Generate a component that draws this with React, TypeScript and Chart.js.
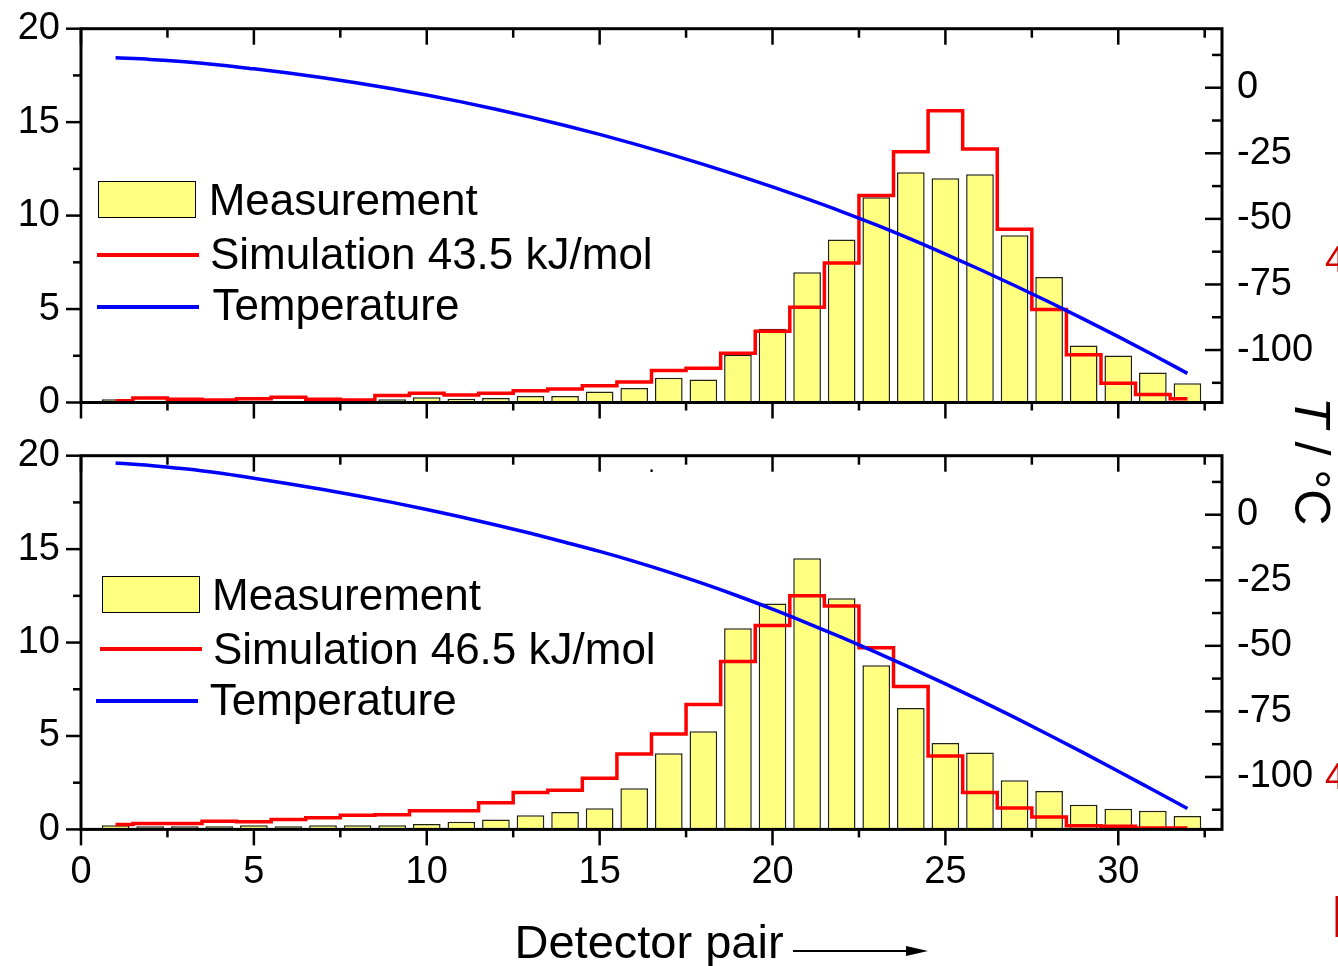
import React, { useEffect, useRef } from "react";
import { Chart, registerables } from "chart.js";

Chart.register(...registerables);

const FONT = "'Liberation Sans', Arial, Helvetica, sans-serif";

// ---------- data ----------
const DETECTOR_PAIRS = [
  1, 2, 3, 4, 5, 6, 7, 8, 9, 10, 11, 12, 13, 14, 15, 16,
  17, 18, 19, 20, 21, 22, 23, 24, 25, 26, 27, 28, 29, 30, 31, 32,
];

const TOP_MEASUREMENT = [
  0.18, 0.07, 0.04, 0.04, 0.06, 0.08, 0.04, 0.04, 0.17, 0.28, 0.2, 0.24, 0.35, 0.35, 0.59, 0.78,
  1.32, 1.23, 2.55, 3.94, 6.97, 8.72, 10.98, 12.32, 12.0, 12.21, 8.95, 6.72, 3.05, 2.51, 1.6, 1.03,
];
const TOP_SIMULATION = [
  0.1, 0.24, 0.17, 0.13, 0.2, 0.28, 0.17, 0.13, 0.38, 0.49, 0.4, 0.5, 0.63, 0.72, 0.9, 1.1,
  1.71, 1.83, 2.64, 3.81, 5.1, 7.47, 11.07, 13.42, 15.61, 13.57, 9.27, 4.97, 2.55, 1.03, 0.43, 0.2,
];
const TOP_TEMPERATURE = [
  11.4, 10.8, 9.9, 8.7, 7.2, 5.6, 3.8, 1.8, -0.4, -2.8, -5.4, -8.2, -11.2, -14.4, -17.8, -21.4,
  -25.2, -29.2, -33.4, -37.8, -42.4, -47.2, -52.3, -57.7, -63.4, -69.3, -75.4, -81.7, -88.2, -94.9, -101.8, -108.9,
];

const BOTTOM_MEASUREMENT = [
  0.22, 0.17, 0.17, 0.17, 0.22, 0.17, 0.22, 0.22, 0.22, 0.29, 0.41, 0.53, 0.76, 0.93, 1.13, 2.2,
  4.08, 5.25, 10.76, 12.09, 14.51, 12.37, 8.78, 6.5, 4.62, 4.12, 2.63, 2.06, 1.32, 1.1, 1.0, 0.72,
];
const BOTTOM_SIMULATION = [
  0.26, 0.31, 0.31, 0.44, 0.41, 0.53, 0.63, 0.76, 0.78, 1.0, 1.0, 1.43, 1.97, 2.09, 2.74, 4.04,
  5.1, 6.68, 8.98, 10.91, 12.5, 11.96, 9.72, 7.65, 3.93, 1.97, 1.15, 0.67, 0.2, 0.17, 0.07, 0.07,
];
const BOTTOM_TEMPERATURE = [
  19.7, 18.8, 17.5, 15.9, 13.9, 11.8, 9.6, 7.2, 4.7, 2.0, -0.9, -3.9, -7.1, -10.5, -14.0, -17.8,
  -21.9, -26.3, -31.0, -36.0, -41.3, -46.8, -52.5, -58.4, -64.5, -70.8, -77.3, -84.0, -90.8, -97.8, -104.9, -112.0,
];

// ---------- axes / ticks ----------
const X_LABEL_TICKS = [0, 5, 10, 15, 20, 25, 30];
const X_MINOR_TICKS = [2.5, 7.5, 12.5, 17.5, 22.5, 27.5, 32.5];
const COUNT_LABEL_TICKS = [0, 5, 10, 15, 20];
const COUNT_MINOR_TICKS = [2.5, 7.5, 12.5, 17.5];
const TEMP_LABEL_TICKS = [-100, -75, -50, -25, 0];
const TEMP_MINOR_TICKS = [-112.5, -87.5, -62.5, -37.5, -12.5, 12.5];

const TOP_LEGEND = ["Measurement", "Simulation 43.5 kJ/mol", "Temperature"];
const BOTTOM_LEGEND = ["Measurement", "Simulation 46.5 kJ/mol", "Temperature"];
const X_TITLE = "Detector pair";

const YELLOW = "#FFFF80";
const RED = "#FF0000";
const BLUE = "#0000FF";

const framePlugin = {
  id: "frameTicks",
  afterDatasetsDraw(chart: any) {
    const { ctx, chartArea: a, scales } = chart;
    const sx = scales.x;
    const sy = scales.y;
    const st = scales.yT;
    ctx.save();
    ctx.strokeStyle = "#000";
    ctx.lineCap = "butt";
    ctx.lineWidth = 2.5;
    const seg = (x1: number, y1: number, x2: number, y2: number) => {
      ctx.beginPath();
      ctx.moveTo(x1, y1);
      ctx.lineTo(x2, y2);
      ctx.stroke();
    };
    for (const v of X_LABEL_TICKS) {
      const p = sx.getPixelForValue(v);
      seg(p, a.bottom, p, a.bottom + 16);
      seg(p, a.top, p, a.top + 16);
    }
    for (const v of X_MINOR_TICKS) {
      const p = sx.getPixelForValue(v);
      seg(p, a.bottom, p, a.bottom + 8);
      seg(p, a.top, p, a.top + 9);
    }
    for (const v of COUNT_LABEL_TICKS) {
      const p = sy.getPixelForValue(v);
      seg(a.left, p, a.left - 15, p);
    }
    for (const v of COUNT_MINOR_TICKS) {
      const p = sy.getPixelForValue(v);
      seg(a.left, p, a.left - 8, p);
    }
    for (const v of TEMP_LABEL_TICKS) {
      const p = st.getPixelForValue(v);
      seg(a.right, p, a.right - 17, p);
    }
    for (const v of TEMP_MINOR_TICKS) {
      const p = st.getPixelForValue(v);
      seg(a.right, p, a.right - 10, p);
    }
    ctx.lineWidth = 3;
    ctx.strokeRect(a.left, a.top, a.right - a.left, a.bottom - a.top);
    ctx.restore();
  },
};

const zeroPadding = (s: any) => {
  s.paddingTop = 0;
  s.paddingBottom = 0;
  s.paddingLeft = 0;
  s.paddingRight = 0;
};

type PanelProps = {
  top: number;
  height: number;
  padTop: number;
  xAxisHeight: number;
  showXLabels: boolean;
  measurement: number[];
  simulation: number[];
  temperature: number[];
};

function Panel(props: PanelProps) {
  const ref = useRef<HTMLCanvasElement | null>(null);
  useEffect(() => {
    if (!ref.current) return;
    const tickFont = { family: FONT, size: 38 };
    const chart = new Chart(ref.current, {
      type: "bar",
      data: {
        datasets: [
          {
            type: "line",
            label: "Temperature",
            data: DETECTOR_PAIRS.map((x, i) => ({ x, y: props.temperature[i] })),
            yAxisID: "yT",
            borderColor: BLUE,
            borderWidth: 3.5,
            pointRadius: 0,
            cubicInterpolationMode: "monotone",
            fill: false,
            order: 1,
          } as any,
          {
            type: "line",
            label: "Simulation",
            data: DETECTOR_PAIRS.map((x, i) => ({ x, y: props.simulation[i] })),
            yAxisID: "y",
            borderColor: RED,
            borderWidth: 3.5,
            pointRadius: 0,
            stepped: "middle",
            fill: false,
            order: 2,
          } as any,
          {
            type: "bar",
            label: "Measurement",
            data: DETECTOR_PAIRS.map((x, i) => ({ x, y: props.measurement[i] })),
            yAxisID: "y",
            backgroundColor: YELLOW,
            borderColor: "#222211",
            borderWidth: 1.5,
            barPercentage: 0.8,
            categoryPercentage: 1,
            order: 3,
          } as any,
        ],
      },
      options: {
        animation: false,
        responsive: false,
        maintainAspectRatio: false,
        layout: { padding: { top: props.padTop, left: 0, right: 0, bottom: 0 } },
        plugins: { legend: { display: false }, tooltip: { enabled: false } },
        scales: {
          x: {
            type: "linear",
            position: "bottom",
            min: 0,
            max: 33,
            offset: false,
            grid: { display: false, drawTicks: false, offset: false },
            border: { display: false },
            ticks: {
              display: props.showXLabels,
              padding: 20,
              color: "#000",
              font: tickFont,
              maxRotation: 0,
              callback: (v: any) => String(v),
            },
            afterBuildTicks: (s: any) => {
              s.ticks = X_LABEL_TICKS.map((v) => ({ value: v }));
            },
            afterFit: (s: any) => {
              s.height = props.xAxisHeight;
              zeroPadding(s);
            },
          },
          y: {
            type: "linear",
            position: "left",
            min: 0,
            max: 20,
            grid: { display: false, drawTicks: false },
            border: { display: false },
            ticks: {
              padding: 21,
              color: "#000",
              font: tickFont,
              callback: (v: any) => String(v),
            },
            afterBuildTicks: (s: any) => {
              s.ticks = COUNT_LABEL_TICKS.map((v) => ({ value: v }));
            },
            afterFit: (s: any) => {
              s.width = 81;
              zeroPadding(s);
            },
          },
          yT: {
            type: "linear",
            position: "right",
            min: -120,
            max: 22.5,
            grid: { display: false, drawTicks: false },
            border: { display: false },
            ticks: {
              padding: 15,
              color: "#000",
              font: tickFont,
              callback: (v: any) => String(v),
            },
            afterBuildTicks: (s: any) => {
              s.ticks = TEMP_LABEL_TICKS.map((v) => ({ value: v }));
            },
            afterFit: (s: any) => {
              s.width = 116;
              zeroPadding(s);
            },
          },
        },
      } as any,
      plugins: [framePlugin],
    });
    return () => chart.destroy();
  }, []);
  return (
    <canvas
      ref={ref}
      width={1338}
      height={props.height}
      style={{ position: "absolute", left: 0, top: props.top, width: 1338, height: props.height }}
    />
  );
}

const textStyle = (left: number, top: number, size: number, color = "#000"): React.CSSProperties => ({
  position: "absolute",
  left,
  top,
  fontFamily: FONT,
  fontSize: size,
  lineHeight: 1,
  whiteSpace: "nowrap",
  color,
  margin: 0,
  padding: 0,
});

type LegendProps = {
  labels: string[];
  swatch: [number, number];
  texts: [number, number][];
  redLine: [number, number, number];
  blueLine: [number, number, number];
};

function Legend({ labels, swatch, texts, redLine, blueLine }: LegendProps) {
  return (
    <>
      <div
        style={{
          position: "absolute",
          left: swatch[0],
          top: swatch[1],
          width: 98,
          height: 37,
          boxSizing: "border-box",
          background: YELLOW,
          border: "1.5px solid #000",
        }}
      />
      <div
        style={{
          position: "absolute",
          left: redLine[0],
          top: redLine[1] - 2,
          width: redLine[2],
          height: 4,
          background: RED,
        }}
      />
      <div
        style={{
          position: "absolute",
          left: blueLine[0],
          top: blueLine[1] - 2,
          width: blueLine[2],
          height: 4,
          background: BLUE,
        }}
      />
      {labels.map((t, i) => (
        <div key={i} style={textStyle(texts[i][0], texts[i][1] - 37.2, 44)}>
          {t}
        </div>
      ))}
    </>
  );
}

export default function App() {
  return (
    <div
      style={{
        position: "absolute",
        left: 0,
        top: 0,
        width: 1338,
        height: 966,
        overflow: "hidden",
        background: "#fff",
      }}
    >
      <Panel
        top={0}
        height={430}
        padTop={28.7}
        xAxisHeight={27.5}
        showXLabels={false}
        measurement={TOP_MEASUREMENT}
        simulation={TOP_SIMULATION}
        temperature={TOP_TEMPERATURE}
      />
      <Panel
        top={427}
        height={539}
        padTop={28.7}
        xAxisHeight={136.6}
        showXLabels={true}
        measurement={BOTTOM_MEASUREMENT}
        simulation={BOTTOM_SIMULATION}
        temperature={BOTTOM_TEMPERATURE}
      />
      <Legend
        labels={TOP_LEGEND}
        swatch={[98, 181]}
        texts={[
          [208.7, 215],
          [210, 269],
          [212.4, 320],
        ]}
        redLine={[97, 254.5, 102]}
        blueLine={[97, 306.7, 102]}
      />
      <Legend
        labels={BOTTOM_LEGEND}
        swatch={[102, 576]}
        texts={[
          [212, 609.9],
          [213, 663.9],
          [209.7, 715.5],
        ]}
        redLine={[100.4, 648.9, 101.4]}
        blueLine={[96, 700.5, 102]}
      />
      <div style={textStyle(514.5, 958 - 0.8465 * 47, 47)}>{X_TITLE}</div>
      <svg
        width={140}
        height={20}
        style={{ position: "absolute", left: 790, top: 940.5 }}
      >
        <line x1={3} y1={10} x2={120} y2={10} stroke="#000" strokeWidth={2} />
        <polygon points="116,5 138,10 116,15" fill="#000" />
      </svg>
      <div
        style={{
          ...textStyle(1337, 397, 50),
          transform: "rotate(90deg)",
          transformOrigin: "0 0",
        }}
      >
        <i>T</i> / °C
      </div>
      <div style={textStyle(1325, 241.5, 36, "#CC0000")}>4</div>
      <div style={textStyle(1325, 758.5, 36, "#CC0000")}>4</div>
      <div style={textStyle(1330, 887, 60, "#CC0000")}>I</div>
      <div style={textStyle(648.3, 452.2, 24)}>.</div>
    </div>
  );
}
